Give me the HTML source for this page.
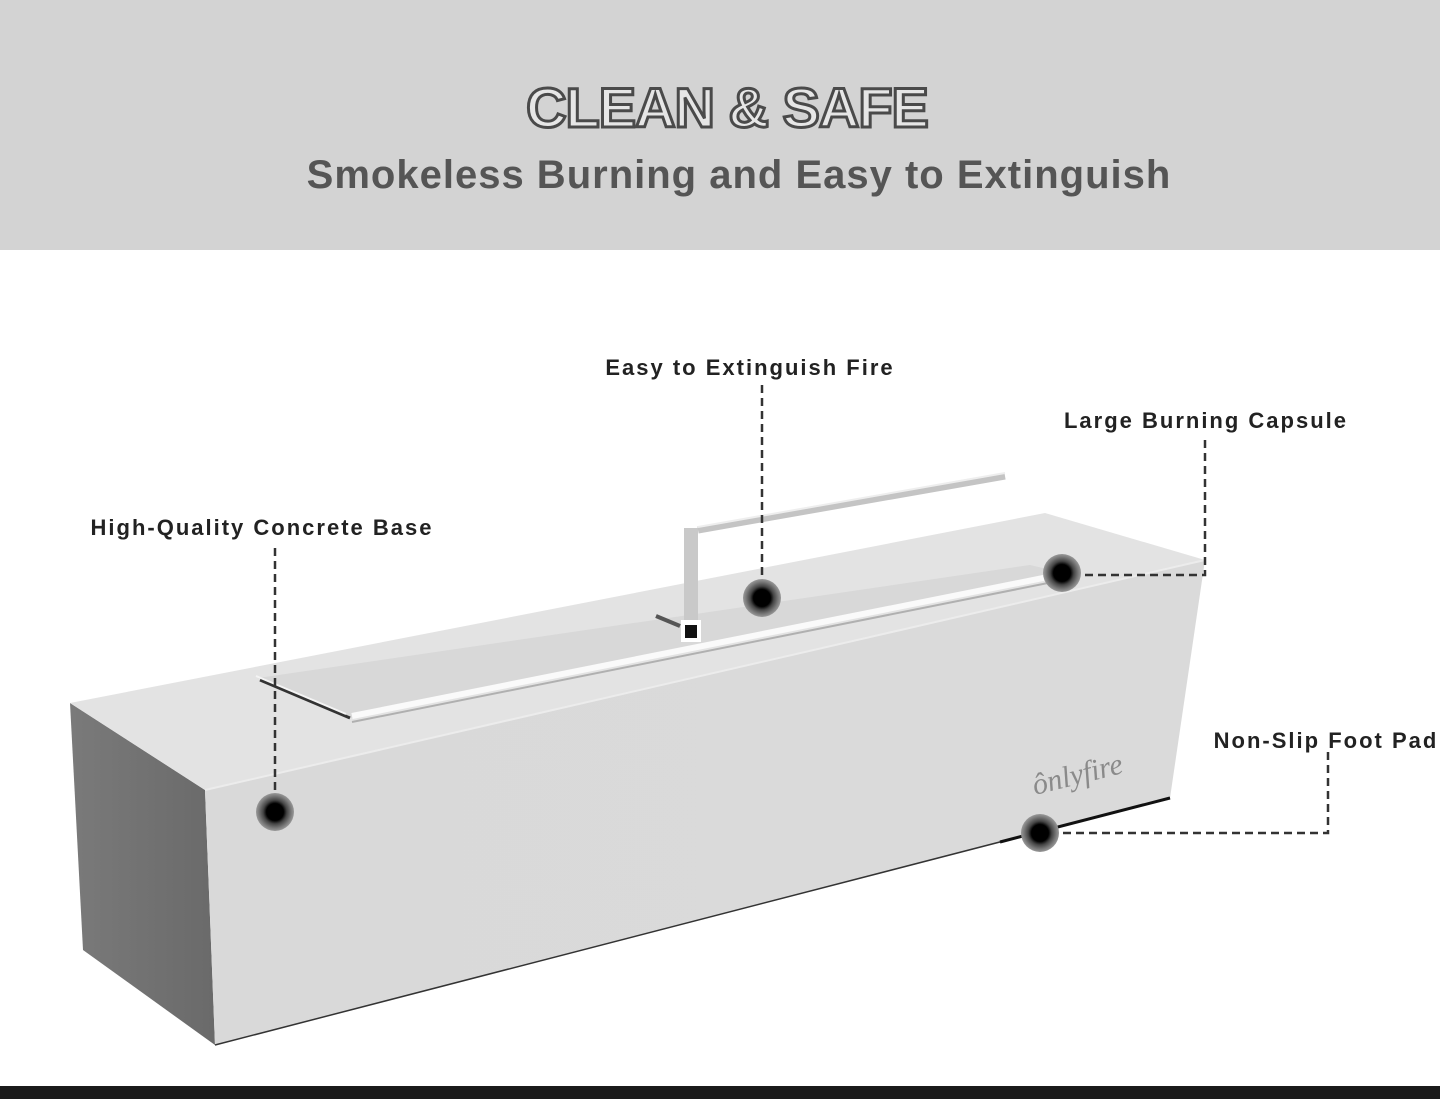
<!DOCTYPE html>
<html><head><meta charset="utf-8"><style>
html,body{margin:0;padding:0;background:#fff;}
svg{display:block}
text{font-family:"Liberation Sans",sans-serif;font-weight:bold}
</style></head><body>
<svg width="1440" height="1099" viewBox="0 0 1440 1099" xmlns="http://www.w3.org/2000/svg">
<defs>
<linearGradient id="front" x1="0" y1="0" x2="1" y2="0">
<stop offset="0" stop-color="#d9d9d9"/><stop offset="1" stop-color="#dadada"/></linearGradient>
<linearGradient id="left" x1="0" y1="0" x2="1" y2="0">
<stop offset="0" stop-color="#7a7a7a"/><stop offset="1" stop-color="#6a6a6a"/></linearGradient>
<radialGradient id="dot"><stop offset="0.45" stop-color="#000"/><stop offset="0.62" stop-color="#444"/><stop offset="0.85" stop-color="#7a7a7a"/><stop offset="1" stop-color="#999"/></radialGradient>
</defs>
<rect x="0" y="0" width="1440" height="250" fill="#d3d3d3"/>
<rect x="0" y="1086" width="1440" height="13" fill="#1a1a1a"/>
<text x="727" y="127" text-anchor="middle" font-size="56" fill="#e6e6e6" stroke="#4a4a4a" stroke-width="3" letter-spacing="-1">CLEAN &amp; SAFE</text>
<text x="739" y="188" text-anchor="middle" font-size="40" fill="#555" letter-spacing="1">Smokeless Burning and Easy to Extinguish</text>

<!-- box -->
<polygon points="70,703 205,790 215,1045 83,950" fill="url(#left)"/>
<polygon points="70,703 1045,513 1205,560 205,790" fill="#e3e3e3"/>
<polygon points="205,790 1205,560 1170,798 215,1045" fill="url(#front)"/>
<line x1="215" y1="1045" x2="1170" y2="798" stroke="#333" stroke-width="1.5"/>
<line x1="1000" y1="842" x2="1170" y2="798" stroke="#111" stroke-width="3"/>
<line x1="205" y1="790" x2="1205" y2="560" stroke="#ececec" stroke-width="2"/>
<!-- tray -->
<polygon points="258,678 1030,565 1068,574 352,718" fill="#d8d8d8"/>
<line x1="260" y1="680" x2="350" y2="718" stroke="#333" stroke-width="3"/>
<line x1="256" y1="676" x2="346" y2="714" stroke="#f4f4f4" stroke-width="2"/>
<line x1="352" y1="716" x2="1068" y2="573" stroke="#fafafa" stroke-width="6"/>
<line x1="352" y1="722" x2="1068" y2="579" stroke="#b0b0b0" stroke-width="2"/>
<!-- handle -->
<rect x="684" y="528" width="14" height="96" fill="#c9c9c9"/>
<line x1="698" y1="530" x2="1005" y2="476" stroke="#c4c4c4" stroke-width="7"/>
<line x1="698" y1="527" x2="1005" y2="473" stroke="#eee" stroke-width="2"/>
<rect x="681" y="620" width="20" height="22" fill="#fff"/><rect x="685" y="625" width="12" height="13" fill="#111"/>
<line x1="656" y1="616" x2="680" y2="626" stroke="#555" stroke-width="4"/>
<text x="1035" y="795" font-size="30" fill="#8a8a8a" font-style="italic" transform="rotate(-14 1035 795)" style="font-family:'Liberation Serif',serif;font-weight:normal">ônlyfire</text>

<!-- leaders -->
<g stroke="#333" stroke-width="2.5" stroke-dasharray="8,5" fill="none">
<path d="M275 548 V795"/>
<path d="M762 385 V580"/>
<path d="M1205 440 V575 H1080"/>
<path d="M1328 752 V833 H1060"/>
</g>
<g fill="url(#dot)">
<circle cx="275" cy="812" r="19"/>
<circle cx="762" cy="598" r="19"/>
<circle cx="1062" cy="573" r="19"/>
<circle cx="1040" cy="833" r="19"/>
</g>
<g font-size="22" fill="#222" letter-spacing="2">
<text x="750" y="375" text-anchor="middle">Easy to Extinguish Fire</text>
<text x="1206" y="428" text-anchor="middle">Large Burning Capsule</text>
<text x="262" y="535" text-anchor="middle">High-Quality Concrete Base</text>
<text x="1326" y="748" text-anchor="middle">Non-Slip Foot Pad</text>
</g>
</svg>
</body></html>
